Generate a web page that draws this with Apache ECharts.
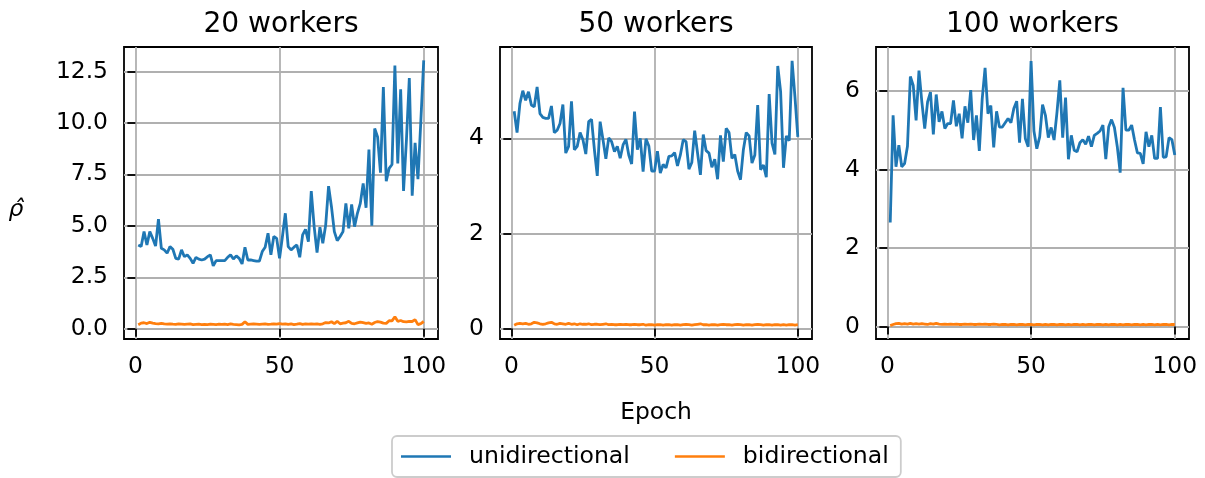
<!DOCTYPE html>
<html>
<head>
<meta charset="utf-8">
<script src="https://cdn.jsdelivr.net/npm/echarts@6/dist/echarts.min.js"></script>
<style>
  html, body { margin: 0; padding: 0; background: #ffffff; }
  #chart { width: 1205px; height: 478px; }
</style>
</head>
<body>
<div id="chart"></div>
<script>
// Epoch index shared by every panel
const epochs = Array.from({ length: 100 }, (_, i) => i + 1);

const panelTitles = ['20 workers', '50 workers', '100 workers'];
const seriesNames = ['unidirectional', 'bidirectional'];

// 20 workers
const uni20 = [
  4.07, 3.99, 4.72, 4.07, 4.72, 4.39, 4.02, 5.33, 3.91, 3.83,
  3.67, 3.99, 3.86, 3.42, 3.38, 3.83, 3.50, 3.59, 3.42, 3.18,
  3.47, 3.38, 3.34, 3.38, 3.50, 3.59, 3.05, 3.31, 3.31, 3.31,
  3.31, 3.47, 3.59, 3.39, 3.54, 3.42, 3.15, 3.96, 3.34, 3.34,
  3.31, 3.28, 3.28, 3.75, 3.96, 4.64, 3.59, 4.48, 4.39, 3.42,
  4.48, 5.61, 3.99, 3.83, 3.96, 4.07, 3.47, 4.56, 4.83, 4.23,
  6.69, 4.96, 3.70, 4.93, 4.15, 5.04, 6.93, 5.93, 4.72, 4.28,
  4.48, 4.72, 6.09, 4.88, 6.04, 4.96, 5.61, 6.09, 7.06, 5.88,
  8.71, 5.01, 9.73, 9.32, 7.58, 11.74, 7.17, 7.79, 7.98, 12.79,
  8.03, 11.63, 6.69, 9.16, 12.18, 6.46, 9.03, 7.27, 10.10, 13.04
];
const bi20 = [
  0.19, 0.27, 0.29, 0.25, 0.31, 0.27, 0.25, 0.24, 0.26, 0.23,
  0.22, 0.24, 0.22, 0.21, 0.23, 0.22, 0.21, 0.22, 0.23, 0.20,
  0.21, 0.22, 0.20, 0.21, 0.20, 0.22, 0.21, 0.20, 0.22, 0.21,
  0.22, 0.20, 0.23, 0.21, 0.20, 0.19, 0.21, 0.34, 0.21, 0.22,
  0.23, 0.22, 0.21, 0.22, 0.23, 0.21, 0.22, 0.24, 0.22, 0.25,
  0.22, 0.24, 0.21, 0.23, 0.20, 0.22, 0.25, 0.21, 0.23, 0.22,
  0.24, 0.22, 0.23, 0.21, 0.24, 0.30, 0.28, 0.34, 0.25, 0.36,
  0.24, 0.27, 0.29, 0.36, 0.26, 0.24, 0.28, 0.32, 0.29, 0.26,
  0.28, 0.22, 0.30, 0.35, 0.32, 0.27, 0.26, 0.39, 0.38, 0.58,
  0.36, 0.40, 0.34, 0.33, 0.36, 0.35, 0.44, 0.20, 0.25, 0.35
];

// 50 workers
const uni50 = [
  4.57, 4.12, 4.73, 5.00, 4.80, 4.98, 4.70, 4.66, 5.08, 4.52,
  4.44, 4.42, 4.42, 4.68, 4.12, 4.17, 4.31, 4.71, 3.69, 3.83,
  4.78, 3.76, 3.83, 4.12, 3.97, 3.67, 4.35, 4.40, 3.76, 3.21,
  4.35, 3.97, 3.57, 4.01, 3.93, 3.72, 3.83, 3.58, 3.86, 3.98,
  3.65, 3.46, 4.56, 3.76, 4.00, 3.30, 3.99, 3.84, 3.31, 3.31,
  3.73, 3.27, 3.45, 3.38, 3.62, 3.63, 3.70, 3.42, 3.65, 3.97,
  3.93, 3.35, 3.49, 4.16, 3.69, 3.23, 4.08, 3.74, 3.69, 3.39,
  3.56, 3.14, 4.06, 3.51, 4.21, 4.12, 3.58, 3.66, 3.31, 3.13,
  3.76, 4.12, 4.05, 3.48, 3.65, 4.70, 3.34, 3.44, 3.18, 4.93,
  3.90, 3.66, 5.52, 4.98, 3.38, 4.05, 3.95, 5.63, 4.87, 4.03
];
const bi50 = [
  0.07, 0.10, 0.11, 0.10, 0.11, 0.09, 0.10, 0.13, 0.12, 0.10,
  0.09, 0.10, 0.12, 0.13, 0.10, 0.09, 0.11, 0.10, 0.09, 0.11,
  0.09, 0.10, 0.08, 0.10, 0.09, 0.09, 0.10, 0.08, 0.09, 0.09,
  0.08, 0.09, 0.10, 0.08, 0.09, 0.08, 0.08, 0.09, 0.08, 0.09,
  0.08, 0.08, 0.09, 0.08, 0.08, 0.09, 0.07, 0.08, 0.08, 0.07,
  0.08, 0.08, 0.07, 0.08, 0.08, 0.07, 0.08, 0.08, 0.07, 0.08,
  0.09, 0.08, 0.07, 0.08, 0.09, 0.10, 0.08, 0.08, 0.07, 0.08,
  0.08, 0.07, 0.08, 0.09, 0.08, 0.08, 0.07, 0.08, 0.09, 0.08,
  0.07, 0.08, 0.08, 0.07, 0.08, 0.09, 0.08, 0.07, 0.08, 0.08,
  0.07, 0.08, 0.08, 0.07, 0.08, 0.07, 0.08, 0.08, 0.07, 0.08
];

// 100 workers
const uni100 = [
  2.65, 5.38, 4.07, 4.62, 4.07, 4.15, 4.59, 6.37, 6.14, 5.25,
  6.52, 5.72, 5.04, 5.72, 5.97, 4.89, 5.91, 5.21, 5.48, 5.04,
  5.17, 5.17, 5.76, 5.10, 5.42, 4.79, 5.61, 5.19, 6.02, 4.75,
  5.38, 4.47, 5.80, 6.59, 5.42, 5.63, 4.56, 5.48, 5.08, 5.08,
  5.19, 5.30, 5.19, 5.55, 5.74, 4.68, 5.80, 4.79, 4.58, 6.76,
  4.98, 4.53, 4.83, 5.65, 5.38, 4.81, 5.07, 4.75, 5.44, 6.27,
  4.81, 5.83, 4.26, 4.87, 4.49, 4.45, 4.68, 4.76, 4.64, 4.85,
  4.58, 4.87, 4.92, 4.98, 5.13, 4.26, 5.08, 5.27, 5.07, 4.58,
  3.92, 6.08, 5.00, 5.00, 5.13, 4.75, 4.42, 4.41, 4.14, 4.96,
  4.58, 4.87, 4.28, 4.28, 5.59, 4.31, 4.32, 4.81, 4.76, 4.37
];
const bi100 = [
  0.02, 0.05, 0.07, 0.08, 0.06, 0.07, 0.06, 0.08, 0.06, 0.07,
  0.06, 0.07, 0.06, 0.05, 0.07, 0.06, 0.08, 0.06, 0.05, 0.06,
  0.05, 0.06, 0.05, 0.06, 0.05, 0.05, 0.06, 0.05, 0.06, 0.05,
  0.05, 0.06, 0.05, 0.06, 0.05, 0.05, 0.06, 0.05, 0.04, 0.05,
  0.05, 0.04, 0.05, 0.05, 0.04, 0.05, 0.05, 0.04, 0.05, 0.05,
  0.04, 0.05, 0.05, 0.04, 0.05, 0.04, 0.05, 0.05, 0.04, 0.05,
  0.05, 0.04, 0.05, 0.04, 0.05, 0.05, 0.04, 0.05, 0.04, 0.05,
  0.05, 0.04, 0.05, 0.05, 0.04, 0.05, 0.04, 0.05, 0.05, 0.04,
  0.05, 0.04, 0.05, 0.05, 0.04, 0.05, 0.05, 0.04, 0.05, 0.04,
  0.05, 0.05, 0.04, 0.05, 0.04, 0.05, 0.05, 0.04, 0.05, 0.05
];

// Tick labels
const xTicks = [0, 50, 100];
const yTicks20 = [0, 2.5, 5, 7.5, 10, 12.5];
const yTicks50 = [0, 2, 4];
const yTicks100 = [0, 2, 4, 6];

// Panel layout and axis extents
const FONT = 'DejaVu Sans';
const TICK_SIZE = 23.4;
const BLUE = '#1f77b4';
const ORANGE = '#ff7f0e';
const panels = [
  { left: 124, width: 314, yMin: -0.5, yMax: 13.69, ticks: yTicks20, digits: 1, uni: uni20, bi: bi20 },
  { left: 500, width: 312, yMin: -0.22, yMax: 5.92, ticks: yTicks50, digits: 0, uni: uni50, bi: bi50 },
  { left: 876, width: 313, yMin: -0.32, yMax: 7.12, ticks: yTicks100, digits: 0, uni: uni100, bi: bi100 }
];
const TOP = 47, HEIGHT = 292;

const pair = vals => epochs.map((e, k) => [e, vals[k]]);

const grid = [], xAxis = [], yAxis = [], series = [], title = [];
panels.forEach((p, i) => {
  grid.push({
    left: p.left, top: TOP, width: p.width, height: HEIGHT,
    show: true, borderColor: '#000000', borderWidth: 1.8, backgroundColor: 'transparent'
  });
  xAxis.push({
    type: 'value', gridIndex: i, min: -3.95, max: 104.95,
    axisLine: { show: false },
    axisTick: { show: true, customValues: xTicks, length: 8, inside: false,
                lineStyle: { color: '#000', width: 1.8 } },
    axisLabel: { customValues: xTicks, margin: 16, color: '#000',
                 fontFamily: FONT, fontSize: TICK_SIZE, lineHeight: 23 },
    splitLine: { show: true, lineStyle: { color: '#b0b0b0', width: 1.8 } }
  });
  yAxis.push({
    type: 'value', gridIndex: i, min: p.yMin, max: p.yMax,
    axisLine: { show: false },
    axisTick: { show: true, customValues: p.ticks, length: 8, inside: false,
                lineStyle: { color: '#000', width: 1.8 } },
    axisLabel: { customValues: p.ticks, margin: 16, color: '#000',
                 fontFamily: FONT, fontSize: TICK_SIZE,
                 formatter: v => Number(v).toFixed(p.digits) },
    splitLine: { show: true, lineStyle: { color: '#b0b0b0', width: 1.8 } }
  });
  series.push({
    name: seriesNames[0], type: 'line', xAxisIndex: i, yAxisIndex: i,
    data: pair(p.uni), symbol: 'none', color: BLUE,
    lineStyle: { color: BLUE, width: 2.8 }, z: 3
  });
  series.push({
    name: seriesNames[1], type: 'line', xAxisIndex: i, yAxisIndex: i,
    data: pair(p.bi), symbol: 'none', color: ORANGE,
    lineStyle: { color: ORANGE, width: 2.8 }, z: 4
  });
  title.push({
    text: panelTitles[i], left: p.left + p.width / 2, top: 11, textAlign: 'center', padding: 0,
    textStyle: { fontFamily: FONT, fontSize: 28.1, fontWeight: 'normal', color: '#000', lineHeight: 28 }
  });
});

// Shared axis titles
title.push({
  text: 'Epoch', left: 656, top: 401, textAlign: 'center', padding: 0,
  textStyle: { fontFamily: FONT, fontSize: 23.4, fontWeight: 'normal', color: '#000', lineHeight: 24 }
});
title.push({
  text: 'ρ\u0302', left: 16, top: 196, textAlign: 'center', padding: 0,
  textStyle: { fontFamily: FONT, fontStyle: 'italic', fontSize: 23.4, fontWeight: 'normal', color: '#000', lineHeight: 28 }
});

const chart = echarts.init(document.getElementById('chart'), null, { renderer: 'canvas' });
chart.setOption({
  animation: false,
  backgroundColor: '#ffffff',
  title: title,
  grid: grid,
  xAxis: xAxis,
  yAxis: yAxis,
  series: series,
  legend: {
    data: seriesNames,
    left: 392, top: 436,
    orient: 'horizontal',
    icon: 'rect',
    itemWidth: 50, itemHeight: 2.4, itemGap: 45,
    padding: [8, 12, 8, 9],
    borderColor: '#cccccc', borderWidth: 1.8, borderRadius: 5,
    backgroundColor: '#ffffff',
    textStyle: { fontFamily: FONT, fontSize: 23.6, color: '#000', lineHeight: 25, padding: [0, 0, 0, 13] }
  }
});
</script>
</body>
</html>
